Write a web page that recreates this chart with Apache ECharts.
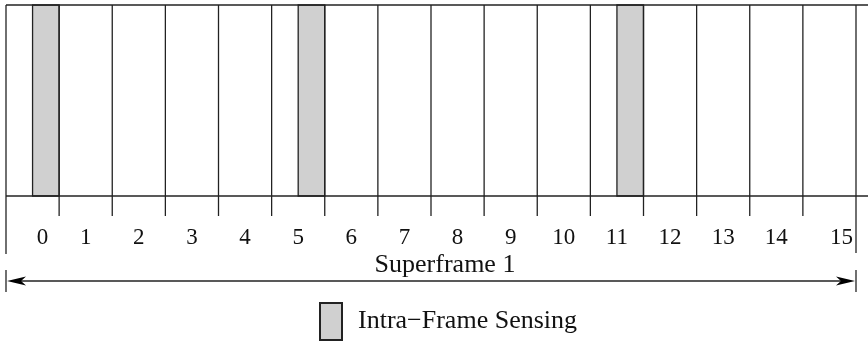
<!DOCTYPE html>
<html>
<head>
<meta charset="utf-8">
<script src="https://cdn.jsdelivr.net/npm/echarts@6/dist/echarts.min.js"></script>
<style>html,body{margin:0;padding:0;background:#fff}#c{width:868px;height:342px}</style>
</head>
<body>
<div id="c"></div>
<script>
// ---- data ----
const categories = ['0','1','2','3','4','5','6','7','8','9','10','11','12','13','14','15'];
const sensingStart = [0.5, 5.5, 11.5];
const sensingEnd = [1, 6, 12];
const superframeLabel = 'Superframe 1';
const legendLabel = 'Intra\u2212Frame Sensing';

const FONT = '"Liberation Serif", "Times New Roman", serif';
const LINE = '#222';
const FILL = '#d0d0d0';
const nSlots = categories.length;

const chart = echarts.init(document.getElementById('c'), null, {renderer: 'canvas'});

function frameRender(params, api) {
  const top = api.coord([0, 1])[1];
  const bot = api.coord([0, 0])[1];
  const x0 = api.coord([0, 0])[0];
  const xEnd = api.coord([nSlots, 0])[0];
  const xRight = params.coordSys.x + params.coordSys.width;
  const ch = [];
  const ls = {stroke: LINE, lineWidth: 1.3};
  // top and bottom lines
  ch.push({type: 'line', shape: {x1: x0, y1: top, x2: xRight, y2: top}, style: ls});
  ch.push({type: 'line', shape: {x1: x0, y1: bot, x2: xRight, y2: bot}, style: ls});
  // outer long verticals
  ch.push({type: 'line', shape: {x1: x0, y1: top, x2: x0, y2: bot + 58}, style: ls});
  ch.push({type: 'line', shape: {x1: xEnd, y1: top, x2: xEnd, y2: bot + 57}, style: ls});
  // slot boundaries with ticks
  for (let i = 1; i < nSlots; i++) {
    const x = api.coord([i, 0])[0];
    ch.push({type: 'line', shape: {x1: x, y1: top, x2: x, y2: bot + 20}, style: ls});
  }
  // slot labels
  const nudge = {0: 10, 15: 12};
  categories.forEach((c, i) => {
    const x = api.coord([i + 0.5, 0])[0] + (nudge[i] || 0);
    ch.push({type: 'text', style: {text: c, x: x, y: bot + 42, align: 'center', verticalAlign: 'middle',
      font: '23px ' + FONT, fill: '#111'}});
  });
  // superframe arrow
  const ay = bot + 85;
  ch.push({type: 'line', shape: {x1: x0, y1: bot + 74, x2: x0, y2: bot + 96}, style: ls});
  ch.push({type: 'line', shape: {x1: xEnd, y1: bot + 74, x2: xEnd, y2: bot + 96}, style: ls});
  ch.push({type: 'line', shape: {x1: x0 + 6, y1: ay, x2: xEnd - 6, y2: ay}, style: ls});
  ch.push({type: 'polygon', shape: {points: [[x0 + 1, ay], [x0 + 20, ay - 4.5], [x0 + 15, ay], [x0 + 20, ay + 4.5]]}, style: {fill: '#000'}});
  ch.push({type: 'polygon', shape: {points: [[xEnd - 1, ay], [xEnd - 20, ay - 4.5], [xEnd - 15, ay], [xEnd - 20, ay + 4.5]]}, style: {fill: '#000'}});
  const mid = api.coord([nSlots / 2, 0])[0] + 14;
  ch.push({type: 'text', style: {text: superframeLabel, x: mid, y: bot + 69, align: 'center', verticalAlign: 'middle',
    font: '26px ' + FONT, fill: '#111'}});
  return {type: 'group', children: ch};
}

function sensingRender(params, api) {
  const a = api.coord([api.value(0), 1]);
  const b = api.coord([api.value(1), 0]);
  return {type: 'rect', shape: {x: a[0], y: a[1], width: b[0] - a[0], height: b[1] - a[1]},
    style: {fill: FILL, stroke: LINE, lineWidth: 1.3}};
}

chart.setOption({
  animation: false,
  grid: {left: 6, right: 0, top: 5, height: 191},
  xAxis: {type: 'value', min: 0, max: nSlots * 862 / 850, show: false},
  yAxis: {type: 'value', min: 0, max: 1, show: false},
  legend: {
    left: 319, top: 302, padding: 0, icon: 'rect', itemWidth: 22, itemHeight: 37,
    data: [legendLabel],
    textStyle: {fontFamily: FONT, fontSize: 26, color: '#111', padding: [0, 0, 0, 11]}
  },
  series: [
    {
      name: legendLabel, type: 'custom', renderItem: sensingRender, clip: false, z: 2,
      itemStyle: {color: FILL, borderColor: LINE, borderWidth: 1.3},
      data: sensingStart.map((s, i) => [s, sensingEnd[i]])
    },
    {
      name: 'frame', type: 'custom', renderItem: frameRender, clip: false, z: 3, silent: true,
      data: [[0, 0]]
    }
  ]
});
</script>
</body>
</html>
